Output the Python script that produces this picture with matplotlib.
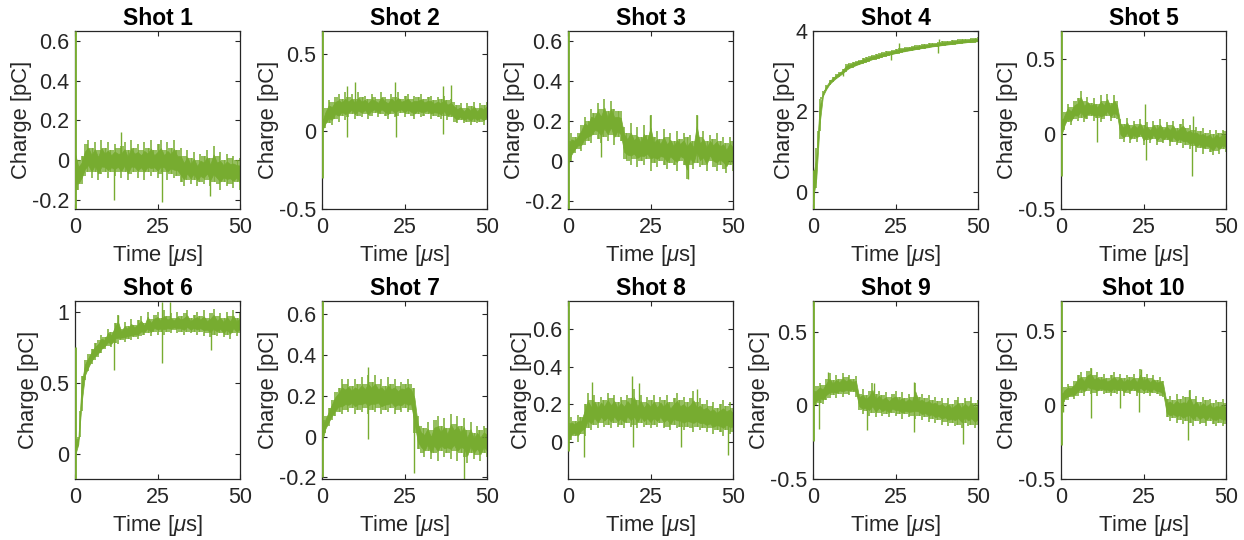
import numpy as np
import matplotlib
matplotlib.use("Agg")
import matplotlib.pyplot as plt
from matplotlib.ticker import FuncFormatter

plt.rcParams['font.family'] = ['Liberation Sans', 'DejaVu Sans']
plt.rcParams['mathtext.fontset'] = 'custom'
plt.rcParams['mathtext.it'] = 'Liberation Sans:italic'
plt.rcParams['mathtext.rm'] = 'Liberation Sans'
plt.rcParams['axes.unicode_minus'] = False

GREEN = '#77AC30'
DARK = '#262626'

# time grid of the read-off envelopes [us]
t_us = np.arange(0, 51)

# upper / lower edge of the noise band, read every 1 us  [pC]
shot1_hi = [0.10, 0.00, 0.02, 0.08, 0.10, 0.06, 0.09, 0.05, 0.10, 0.06, 0.09, 0.05, 0.08, 0.06, 0.07, 0.09, 0.05,
            0.10, 0.06, 0.08, 0.05, 0.09, 0.06, 0.10, 0.05, 0.08, 0.10, 0.05, 0.09, 0.06, 0.10, 0.05, 0.06, 0.02,
            0.05, 0.01, 0.04, 0.00, 0.03, 0.02, 0.05, 0.01, 0.07, 0.02, 0.04, 0.00, 0.03, 0.01, 0.02, 0.00, 0.01]
shot1_lo = [-0.18, -0.15, -0.12, -0.08, -0.06, -0.09, -0.06, -0.10, -0.07, -0.06, -0.09, -0.06, -0.08, -0.06, -0.09,
            -0.06, -0.10, -0.07, -0.06, -0.09, -0.06, -0.10, -0.06, -0.08, -0.06, -0.09, -0.07, -0.06, -0.10, -0.07,
            -0.09, -0.08, -0.11, -0.13, -0.10, -0.12, -0.10, -0.13, -0.11, -0.12, -0.10, -0.13, -0.11, -0.12, -0.15,
            -0.11, -0.13, -0.12, -0.14, -0.11, -0.15]
shot2_hi = [0.08, 0.15, 0.20, 0.19, 0.22, 0.24, 0.21, 0.25, 0.22, 0.24, 0.21, 0.25, 0.22, 0.23, 0.21, 0.24, 0.22,
            0.21, 0.25, 0.22, 0.21, 0.24, 0.22, 0.25, 0.21, 0.23, 0.24, 0.21, 0.23, 0.22, 0.24, 0.21, 0.22, 0.23,
            0.20, 0.22, 0.21, 0.23, 0.20, 0.21, 0.19, 0.17, 0.18, 0.15, 0.18, 0.16, 0.19, 0.15, 0.18, 0.17, 0.19]
shot2_lo = [-0.02, 0.02, 0.05, 0.04, 0.08, 0.06, 0.10, 0.07, 0.09, 0.11, 0.08, 0.10, 0.09, 0.11, 0.08, 0.10, 0.12,
            0.09, 0.11, 0.10, 0.08, 0.11, 0.09, 0.10, 0.12, 0.09, 0.11, 0.10, 0.08, 0.11, 0.09, 0.10, 0.11, 0.08,
            0.10, 0.09, 0.08, 0.10, 0.07, 0.09, 0.06, 0.05, 0.07, 0.05, 0.06, 0.04, 0.06, 0.05, 0.06, 0.04, 0.07]
shot3_hi = [0.10, 0.14, 0.12, 0.14, 0.18, 0.22, 0.20, 0.26, 0.24, 0.29, 0.26, 0.31, 0.25, 0.30, 0.26, 0.25, 0.25,
            0.17, 0.14, 0.19, 0.13, 0.17, 0.12, 0.18, 0.13, 0.23, 0.12, 0.15, 0.11, 0.16, 0.12, 0.14, 0.10, 0.15,
            0.11, 0.14, 0.12, 0.13, 0.10, 0.23, 0.12, 0.15, 0.10, 0.13, 0.11, 0.14, 0.10, 0.12, 0.09, 0.12, 0.10]
shot3_lo = [-0.05, 0.00, 0.04, 0.06, 0.05, 0.08, 0.10, 0.09, 0.13, 0.11, 0.09, 0.12, 0.10, 0.13, 0.08, 0.12, 0.10,
            0.01, 0.00, -0.02, 0.01, -0.03, 0.00, -0.02, 0.01, -0.05, -0.01, -0.03, 0.00, -0.02, -0.04, -0.01,
            -0.02, -0.05, 0.00, -0.02, -0.09, -0.02, -0.04, -0.01, -0.03, -0.02, -0.05, 0.00, -0.03, -0.05, -0.02,
            -0.04, -0.06, -0.02, -0.05]
shot4_hi = [0.55, 1.10, 2.30, 2.50, 2.66, 2.78, 2.86, 2.93, 2.99, 3.05, 3.18, 3.20, 3.23, 3.26, 3.29, 3.32, 3.35,
            3.37, 3.40, 3.42, 3.45, 3.47, 3.49, 3.51, 3.53, 3.55, 3.57, 3.58, 3.60, 3.61, 3.63, 3.64, 3.65, 3.67,
            3.68, 3.69, 3.70, 3.71, 3.72, 3.74, 3.75, 3.76, 3.77, 3.78, 3.79, 3.80, 3.80, 3.81, 3.82, 3.83, 3.84]
shot4_lo = [-0.40, 0.10, 1.50, 2.35, 2.52, 2.65, 2.73, 2.80, 2.86, 2.92, 2.98, 3.05, 3.08, 3.12, 3.15, 3.18, 3.21,
            3.24, 3.27, 3.29, 3.31, 3.34, 3.36, 3.38, 3.40, 3.42, 3.44, 3.46, 3.47, 3.49, 3.50, 3.52, 3.53, 3.55,
            3.56, 3.57, 3.59, 3.60, 3.61, 3.62, 3.63, 3.64, 3.65, 3.66, 3.67, 3.68, 3.69, 3.70, 3.70, 3.71, 3.72]
shot5_hi = [0.10, 0.15, 0.20, 0.18, 0.22, 0.24, 0.29, 0.22, 0.25, 0.21, 0.24, 0.20, 0.26, 0.22, 0.27, 0.21, 0.26,
            0.22, 0.10, 0.07, 0.11, 0.06, 0.09, 0.07, 0.10, 0.06, 0.08, 0.05, 0.09, 0.06, 0.10, 0.05, 0.08, 0.06,
            0.09, 0.04, 0.07, 0.10, 0.04, 0.06, 0.03, 0.05, 0.02, 0.04, 0.01, 0.03, 0.00, 0.03, 0.01, 0.03, 0.02]
shot5_lo = [-0.05, 0.03, 0.08, 0.06, 0.10, 0.09, 0.11, 0.08, 0.10, 0.12, 0.09, 0.11, 0.08, 0.10, 0.12, 0.09, 0.11,
            0.10, -0.03, -0.05, -0.02, -0.06, -0.03, -0.05, -0.02, -0.07, -0.04, -0.06, -0.03, -0.07, -0.05, -0.06,
            -0.04, -0.08, -0.05, -0.07, -0.06, -0.09, -0.07, -0.10, -0.08, -0.12, -0.09, -0.13, -0.10, -0.12, -0.14,
            -0.11, -0.13, -0.10, -0.12]
shot6_hi = [0.10, 0.12, 0.55, 0.66, 0.70, 0.74, 0.78, 0.80, 0.84, 0.82, 0.88, 0.86, 0.92, 0.98, 0.88, 0.93, 0.90,
            0.95, 0.91, 0.94, 0.97, 0.92, 1.00, 0.95, 0.98, 1.00, 0.96, 1.01, 0.97, 0.99, 0.96, 1.00, 0.97, 0.99,
            1.01, 0.96, 0.98, 1.00, 0.97, 1.01, 0.96, 0.99, 1.02, 0.97, 0.99, 0.96, 1.00, 0.97, 1.01, 0.96, 0.99]
shot6_lo = [-0.05, 0.05, 0.30, 0.52, 0.58, 0.63, 0.66, 0.68, 0.71, 0.74, 0.76, 0.75, 0.78, 0.77, 0.80, 0.79, 0.81,
            0.80, 0.82, 0.81, 0.83, 0.84, 0.85, 0.83, 0.86, 0.84, 0.86, 0.84, 0.86, 0.85, 0.87, 0.85, 0.86, 0.84,
            0.86, 0.85, 0.86, 0.84, 0.86, 0.83, 0.85, 0.82, 0.84, 0.83, 0.85, 0.82, 0.84, 0.81, 0.85, 0.83, 0.85]
shot7_hi = [0.08, 0.10, 0.14, 0.18, 0.22, 0.24, 0.28, 0.26, 0.28, 0.25, 0.28, 0.26, 0.29, 0.26, 0.30, 0.27, 0.30,
            0.26, 0.28, 0.25, 0.29, 0.26, 0.28, 0.25, 0.27, 0.26, 0.28, 0.26, 0.24, 0.10, 0.05, 0.04, 0.07, 0.03,
            0.08, 0.10, 0.05, 0.09, 0.04, 0.11, 0.06, 0.10, 0.05, 0.09, 0.03, 0.07, 0.02, 0.05, 0.03, 0.05, 0.04]
shot7_lo = [-0.06, 0.02, 0.05, 0.08, 0.10, 0.12, 0.11, 0.13, 0.12, 0.14, 0.11, 0.13, 0.12, 0.14, 0.11, 0.13, 0.12,
            0.14, 0.11, 0.13, 0.12, 0.14, 0.11, 0.13, 0.12, 0.14, 0.12, 0.13, 0.02, -0.06, -0.08, -0.10, -0.07,
            -0.11, -0.08, -0.12, -0.07, -0.10, -0.08, -0.11, -0.07, -0.12, -0.08, -0.10, -0.13, -0.08, -0.11, -0.09,
            -0.12, -0.08, -0.10]
shot8_hi = [0.10, 0.13, 0.11, 0.14, 0.13, 0.20, 0.26, 0.22, 0.25, 0.21, 0.24, 0.22, 0.26, 0.23, 0.25, 0.21, 0.24,
            0.22, 0.25, 0.23, 0.28, 0.22, 0.25, 0.21, 0.24, 0.22, 0.25, 0.21, 0.24, 0.22, 0.25, 0.21, 0.23, 0.26,
            0.22, 0.24, 0.21, 0.23, 0.27, 0.21, 0.23, 0.20, 0.22, 0.19, 0.21, 0.18, 0.20, 0.22, 0.19, 0.21, 0.18]
shot8_lo = [-0.02, 0.01, 0.03, 0.00, 0.04, 0.03, 0.07, 0.06, 0.09, 0.07, 0.10, 0.08, 0.09, 0.07, 0.10, 0.08, 0.09,
            0.07, 0.10, 0.08, 0.09, 0.07, 0.10, 0.08, 0.09, 0.07, 0.09, 0.08, 0.10, 0.07, 0.08, 0.06, 0.09, 0.07,
            0.08, 0.06, 0.08, 0.07, 0.05, 0.08, 0.06, 0.07, 0.05, 0.07, 0.04, 0.06, 0.05, 0.03, 0.06, 0.04, 0.05]
shot9_hi = [0.10, 0.13, 0.15, 0.14, 0.18, 0.22, 0.17, 0.21, 0.18, 0.22, 0.19, 0.21, 0.18, 0.20, 0.08, 0.11, 0.07,
            0.10, 0.15, 0.08, 0.10, 0.07, 0.09, 0.06, 0.08, 0.10, 0.06, 0.09, 0.05, 0.08, 0.06, 0.15, 0.06, 0.08,
            0.05, 0.07, 0.04, 0.06, 0.03, 0.05, 0.02, 0.05, 0.01, 0.04, 0.06, 0.02, 0.05, 0.03, 0.06, 0.02, 0.04]
shot9_lo = [-0.02, 0.00, 0.02, 0.01, 0.04, 0.05, 0.07, 0.05, 0.08, 0.06, 0.08, 0.07, 0.09, 0.06, -0.03, -0.06,
            -0.04, -0.07, -0.05, -0.08, -0.05, -0.07, -0.06, -0.08, -0.05, -0.07, -0.06, -0.09, -0.06, -0.08, -0.07,
            -0.09, -0.07, -0.10, -0.08, -0.11, -0.09, -0.12, -0.10, -0.13, -0.11, -0.14, -0.12, -0.14, -0.13, -0.15,
            -0.12, -0.14, -0.13, -0.15, -0.13]
shot10_hi = [0.08, 0.12, 0.14, 0.13, 0.16, 0.20, 0.22, 0.19, 0.23, 0.25, 0.20, 0.22, 0.19, 0.21, 0.18, 0.20, 0.22,
             0.19, 0.21, 0.18, 0.20, 0.19, 0.21, 0.18, 0.24, 0.19, 0.21, 0.18, 0.20, 0.17, 0.19, 0.16, 0.04, 0.06,
             0.03, 0.07, 0.04, 0.06, 0.05, 0.10, 0.04, 0.06, 0.02, 0.05, 0.03, 0.04, 0.01, 0.03, 0.02, 0.04, 0.01]
shot10_lo = [-0.03, 0.02, 0.03, 0.05, 0.04, 0.06, 0.08, 0.06, 0.09, 0.07, 0.08, 0.06, 0.09, 0.07, 0.08, 0.06, 0.08,
             0.07, 0.09, 0.06, 0.08, 0.07, 0.09, 0.06, 0.08, 0.07, 0.08, 0.06, 0.08, 0.07, 0.06, 0.05, -0.08, -0.11,
             -0.09, -0.12, -0.10, -0.13, -0.11, -0.12, -0.14, -0.11, -0.13, -0.12, -0.14, -0.11, -0.13, -0.14,
             -0.12, -0.14, -0.13]

# isolated spikes sticking out of the band: (time us, tip value pC)
shot1_spikes = [(11.9, -0.20), (13.8, 0.14), (26.3, -0.21), (40.9, -0.18)]
shot2_spikes = [(7.5, 0.29), (7.6, -0.04), (9.9, 0.32), (22.2, 0.32), (22.3, -0.04), (36.6, 0.29), (36.7, -0.02),
                (39.2, 0.30)]
shot3_spikes = [(10.0, 0.02), (24.8, 0.23), (36.4, -0.09), (39.0, 0.23)]
shot4_spikes = [(9.0, 2.87), (23.5, 3.28), (26.0, 3.70), (38.0, 3.45), (38.2, 3.80)]
shot5_spikes = [(10.8, -0.05), (25.4, 0.20), (25.7, -0.17), (39.8, -0.28), (40.0, 0.12)]
shot6_spikes = [(11.9, 0.59), (12.9, 0.98), (26.5, 0.64), (26.3, 1.07), (28.8, 1.07), (41.1, 0.73)]
shot7_spikes = [(13.8, 0.34), (14.0, -0.01), (27.9, -0.18), (43.0, -0.22)]
shot8_spikes = [(4.7, -0.08), (7.2, 0.32), (19.3, 0.35), (19.6, -0.03), (21.5, 0.31), (34.2, -0.03),
                (39.0, 0.28), (48.5, -0.07)]
shot9_spikes = [(1.7, -0.16), (4.5, 0.23), (16.3, -0.17), (18.6, 0.15), (30.6, 0.16), (30.7, -0.18),
                (45.4, -0.26)]
shot10_spikes = [(0.6, -0.05), (9.0, -0.09), (9.1, 0.25), (17.9, -0.02), (23.7, -0.05), (24.1, 0.24),
                 (38.5, -0.24), (38.8, 0.10)]

# trigger transient at t = 0: (low, high) [pC]
start_span = [(-0.245, 0.65), (-0.30, 0.645), (-0.24, 0.65), (-0.43, 0.55), (-0.28, 0.69),
              (-0.18, 0.75), (-0.20, 0.665), (-0.05, 0.75), (-0.24, 0.71), (-0.27, 0.70)]

y_limits = [(-0.245, 0.65), (-0.5, 0.645), (-0.24, 0.65), (-0.43, 4.0), (-0.5, 0.69),
            (-0.18, 1.077), (-0.208, 0.665), (-0.2, 0.75), (-0.5, 0.71), (-0.5, 0.70)]
y_ticks = [[-0.2, 0, 0.2, 0.4, 0.6], [-0.5, 0, 0.5], [-0.2, 0, 0.2, 0.4, 0.6], [0, 2, 4], [-0.5, 0, 0.5],
           [0, 0.5, 1], [-0.2, 0, 0.2, 0.4, 0.6], [0, 0.2, 0.4, 0.6], [-0.5, 0, 0.5], [-0.5, 0, 0.5]]

shots = [
    (shot1_hi, shot1_lo, shot1_spikes), (shot2_hi, shot2_lo, shot2_spikes),
    (shot3_hi, shot3_lo, shot3_spikes), (shot4_hi, shot4_lo, shot4_spikes),
    (shot5_hi, shot5_lo, shot5_spikes), (shot6_hi, shot6_lo, shot6_spikes),
    (shot7_hi, shot7_lo, shot7_spikes), (shot8_hi, shot8_lo, shot8_spikes),
    (shot9_hi, shot9_lo, shot9_spikes), (shot10_hi, shot10_lo, shot10_spikes),
]

fig = plt.figure(figsize=(12.44, 5.40), dpi=100)

col_left = [75, 322, 568, 813, 1061]
ax_w, ax_h = 165, 178
row_bottom = [209, 479]

fmt = FuncFormatter(lambda v, p: '%g' % v)

for i, (hi, lo, spikes) in enumerate(shots):
    r, c = divmod(i, 5)
    ax = fig.add_axes([col_left[c] / 1244, (540 - row_bottom[r]) / 540, ax_w / 1244, ax_h / 540])

    hi = np.array(hi)
    lo = np.array(lo)
    mid = (hi + lo) / 2
    half = (hi - lo) / 2
    # solid core of the noisy trace, the outer part as thin strokes (one per sample)
    ax.fill_between(t_us, mid - 0.55 * half, mid + 0.55 * half, color=GREEN, lw=0.5, edgecolor=GREEN)
    ax.vlines(t_us, lo, hi, color=GREEN, lw=1.1)
    ax.vlines(t_us[:-1] + 0.5, np.maximum(lo[:-1], lo[1:]), np.minimum(hi[:-1], hi[1:]), color=GREEN, lw=1.1)

    st, sv = zip(*spikes)
    base = np.interp(st, t_us, mid)
    ax.vlines(st, base, sv, color=GREEN, lw=1.0)

    ax.vlines(0.15, start_span[i][0], start_span[i][1], color=GREEN, lw=2.0, zorder=3)

    ax.set_xlim(0, 50)
    ax.set_ylim(*y_limits[i])
    ax.set_xticks([0, 25, 50])
    ax.set_yticks(y_ticks[i])
    ax.yaxis.set_major_formatter(fmt)

    ax.tick_params(direction='in', top=True, right=True, length=3.5, width=0.8,
                   colors=DARK, labelsize=15.5)
    ax.tick_params(axis='x', pad=6)
    ax.tick_params(axis='y', pad=4)
    for s in ax.spines.values():
        s.set_color(DARK)
        s.set_linewidth(0.9)

    ax.set_title('Shot %d' % (i + 1), fontsize=16.5, fontweight='bold', pad=4)
    ax.set_xlabel(r'Time [$\mu$s]', fontsize=15.8, color=DARK, labelpad=3)
    ax.set_ylabel('Charge [pC]', fontsize=15.8, color=DARK, labelpad=0)

fig.savefig('out.png', dpi=100)
